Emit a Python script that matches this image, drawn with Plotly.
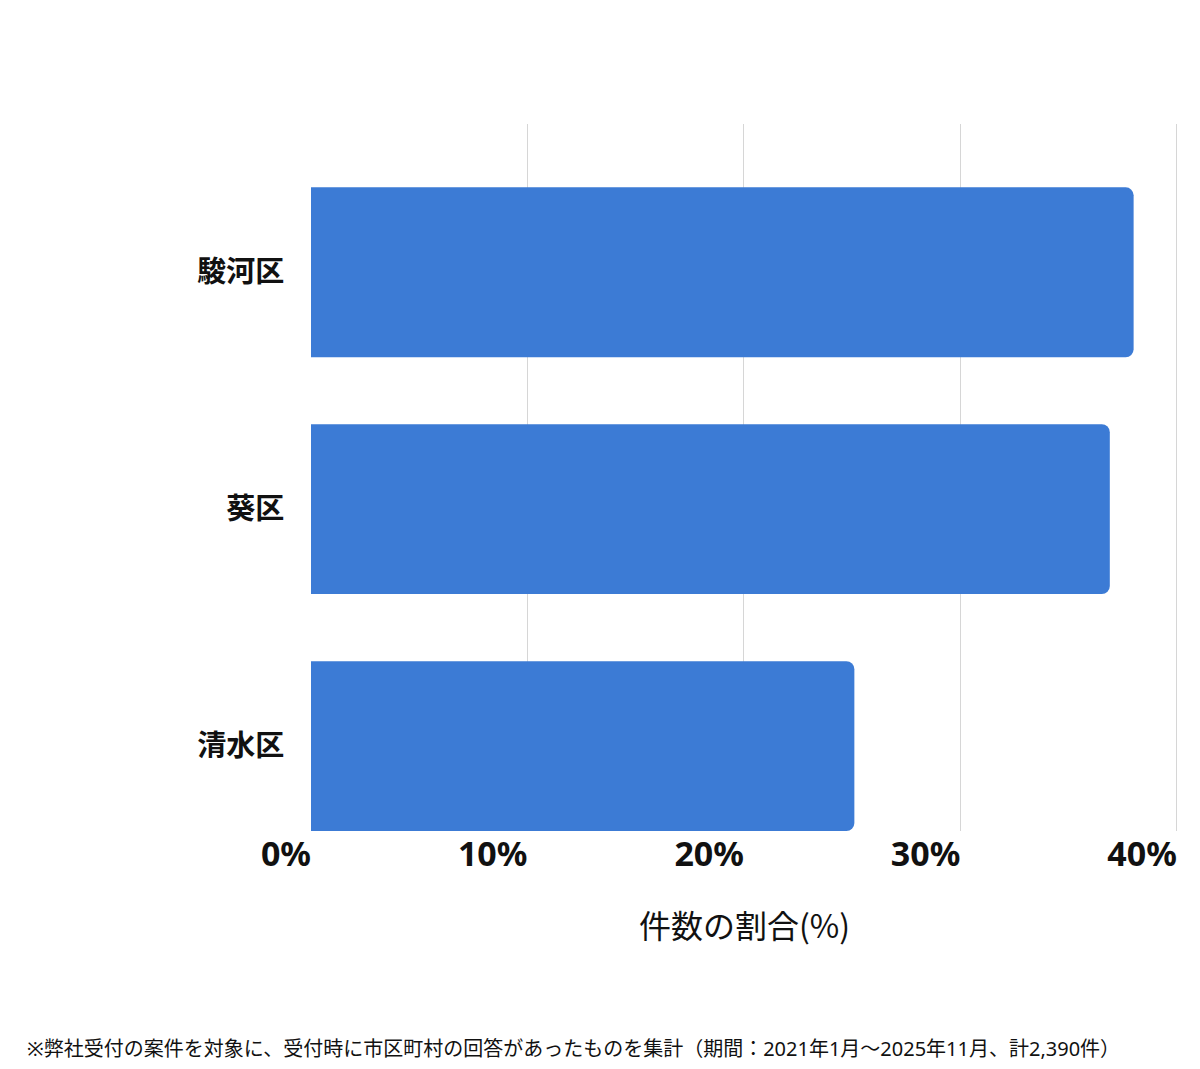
import plotly.graph_objects as go

categories = ["駿河区", "葵区", "清水区"]
values = [38.0, 36.9, 25.1]
tick_vals = [0, 10, 20, 30, 40]
tick_text = ["0%", "10%", "20%", "30%", "40%"]

F = "Noto Sans CJK JP"
FL = "Noto Sans, Noto Sans CJK JP"
fig = go.Figure(go.Bar(
    y=categories, x=values, orientation="h",
    marker=dict(color="#3c7bd5", cornerradius=8, line=dict(width=0)),
    hoverinfo="skip",
))
fig.update_layout(
    width=1200, height=1069, plot_bgcolor="white", paper_bgcolor="white",
    margin=dict(l=303, r=30, t=116, b=246),
    bargap=0.283, showlegend=False,
    font=dict(family=F, color="#111"),
)
fig.update_xaxes(range=[0, 40.05], tickvals=tick_vals, ticktext=tick_text,
                 ticklabelposition="outside left",
                 tickfont=dict(size=34, family=FL, weight="bold", color="#111"),
                 showgrid=True, gridcolor="#d6d6d6", gridwidth=1, zeroline=False,
                 title=dict(text="件数の割合(%)", font=dict(size=32, family=F), standoff=40),
                 ticks="", showline=False)
fig.update_yaxes(range=[2.3585, -0.626], tickfont=dict(size=29, family=F, weight="bold", color="#111"),
                 ticks="outside", ticklen=20, tickcolor="white", showgrid=False, zeroline=False)
fig.add_annotation(text="※弊社受付の案件を対象に、受付時に市区町村の回答があったものを集計（期間：2021年1月～2025年11月、計2,390件）",
                   xref="paper", yref="paper", x=-281/851, y=-213/691, xanchor="left", yanchor="middle",
                   showarrow=False, font=dict(size=20, family=FL, color="#111"))
fig.write_html("out.html")
